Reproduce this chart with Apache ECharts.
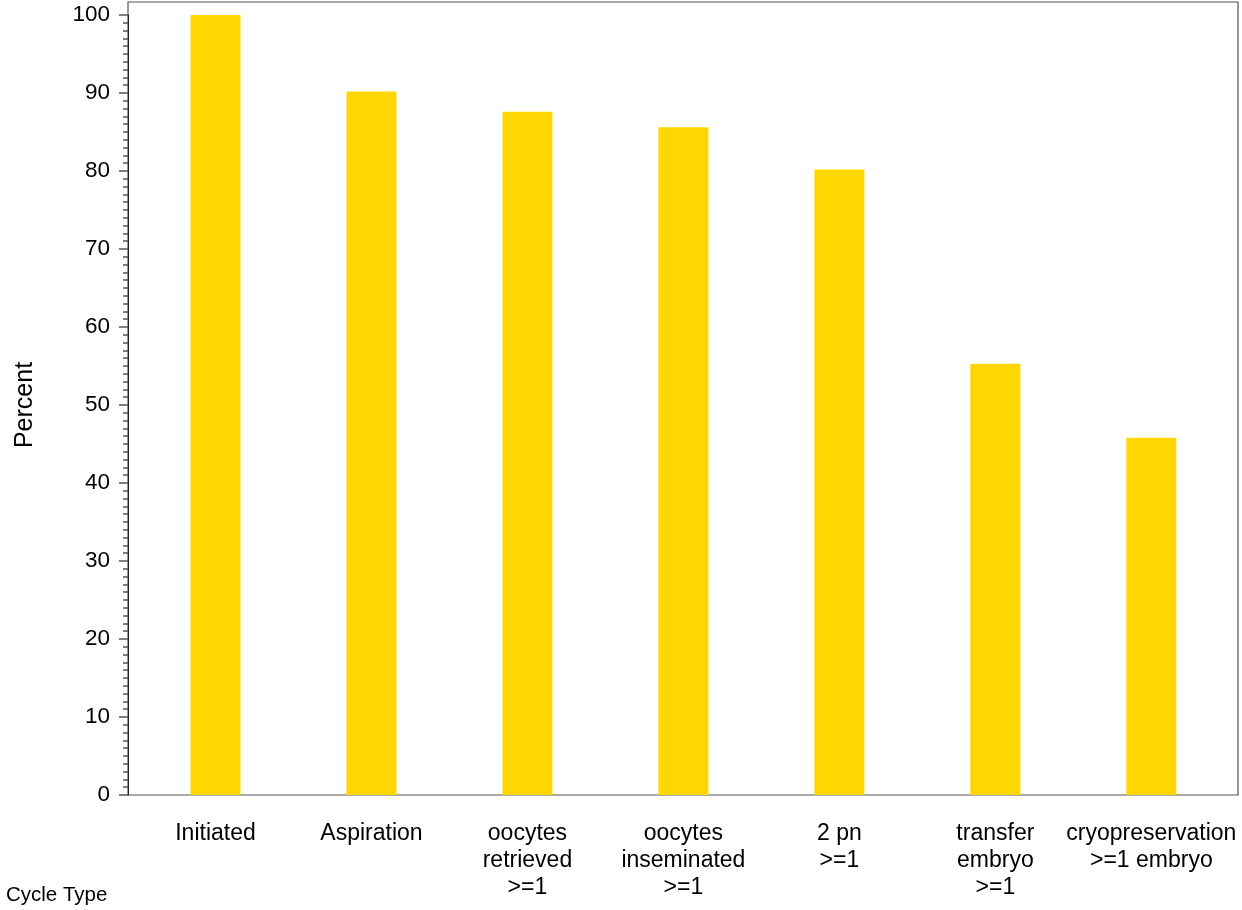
<!DOCTYPE html>
<html>
<head>
<meta charset="utf-8">
<script src="https://cdn.jsdelivr.net/npm/echarts@6/dist/echarts.min.js"></script>
<style>
  html, body { margin: 0; padding: 0; background: #fff; }
  #chart { width: 1242px; height: 910px; }
</style>
</head>
<body>
<div id="chart"></div>
<script>
const categories = [
  'Initiated',
  'Aspiration',
  'oocytes\nretrieved\n>=1',
  'oocytes\ninseminated\n>=1',
  '2 pn\n>=1',
  'transfer\nembryo\n>=1',
  'cryopreservation\n>=1 embryo'
];
const percentValues = [100, 90.2, 87.6, 85.6, 80.2, 55.3, 45.8];
const yTickValues = [0, 10, 20, 30, 40, 50, 60, 70, 80, 90, 100];

const FONT = '"Liberation Sans", Arial, sans-serif';
const chart = echarts.init(document.getElementById('chart'), null, { renderer: 'canvas' });

chart.setOption({
  backgroundColor: '#ffffff',
  animation: false,
  title: {
    text: 'Cycle Type',
    left: 1,
    top: 880,
    textStyle: { fontFamily: FONT, fontSize: 20.5, fontWeight: 'normal', color: '#000' }
  },
  grid: [
    { left: 137.5, right: 12.7, top: 15, bottom: 115, containLabel: false },
    { left: 128, right: 4, top: 2, bottom: 115, show: true, borderColor: '#555', borderWidth: 1.2, backgroundColor: 'transparent', containLabel: false }
  ],
  xAxis: [
    {
      type: 'category',
      gridIndex: 0,
      data: categories,
      boundaryGap: true,
      axisLine: { show: false },
      axisTick: { show: false },
      axisLabel: {
        interval: 0,
        margin: 25.5,
        fontFamily: FONT,
        fontSize: 23,
        lineHeight: 27,
        color: '#000',
        align: 'center'
      }
    },
    { type: 'value', gridIndex: 1, show: false, min: 0, max: 1 }
  ],
  yAxis: [
    {
      type: 'value',
      gridIndex: 0,
      min: 0,
      max: 100,
      interval: 10,
      offset: 9.5,
      name: 'Percent',
      nameLocation: 'middle',
      nameRotate: 90,
      nameGap: 90,
      nameTextStyle: { fontFamily: FONT, fontSize: 25, color: '#000' },
      axisLine: { show: true, lineStyle: { color: '#222', width: 1 } },
      axisTick: { show: true, length: 9, lineStyle: { color: '#555', width: 1.5 } },
      minorTick: { show: true, splitNumber: 10, length: 5, lineStyle: { color: '#555', width: 1.5 } },
      splitLine: { show: false },
      axisLabel: {
        margin: 18,
        fontFamily: FONT,
        fontSize: 22.5,
        color: '#000',
        formatter: function (v) { return yTickValues.indexOf(v) >= 0 ? String(v) : ''; }
      }
    },
    { type: 'value', gridIndex: 1, show: false, min: 0, max: 1 }
  ],
  series: [
    {
      type: 'bar',
      xAxisIndex: 0,
      yAxisIndex: 0,
      data: percentValues,
      barWidth: 50,
      itemStyle: { color: '#FFD700' },
      silent: true
    }
  ]
});
</script>
</body>
</html>
